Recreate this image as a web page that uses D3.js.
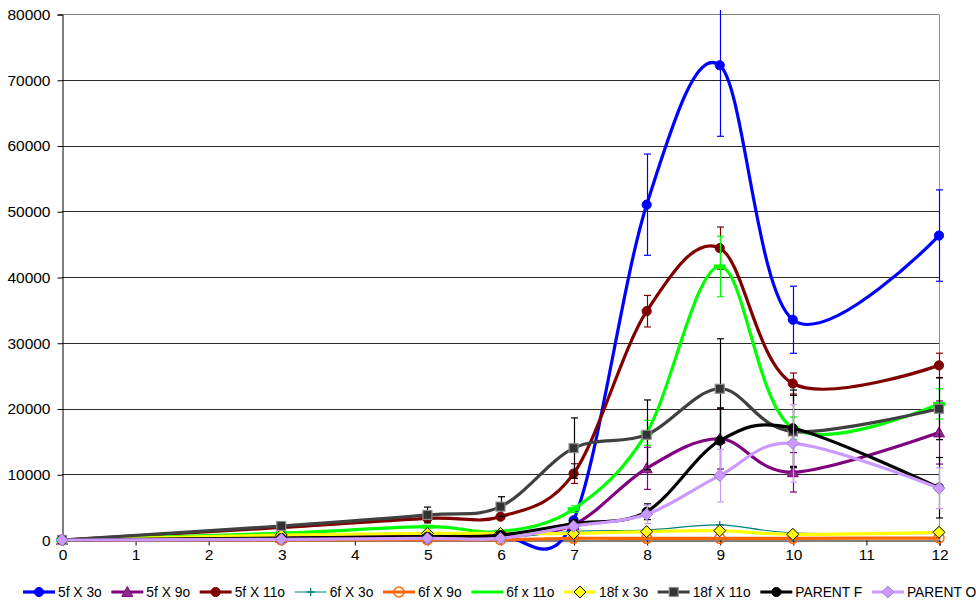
<!DOCTYPE html>
<html>
<head>
<meta charset="utf-8">
<script src="https://cdn.jsdelivr.net/npm/d3@7/dist/d3.min.js"></script>
<style>
  html, body { margin: 0; padding: 0; background: #fff; }
  svg { display: block; font-family: Arial, "Liberation Sans", sans-serif; }
</style>
</head>
<body>
<svg id="chart" width="976" height="605"></svg>
<script>
// Sampling times (x) shared by every series
const times = [0, 3, 5, 6, 7, 8, 9, 10, 12];

// Series names in legend order
const seriesNames = ["5f X 3o", "5f X 9o", "5f X 11o", "6f X 3o", "6f X 9o",
                     "6f x 11o", "18f x 3o", "18f X 11o", "PARENT F", "PARENT O"];

// Mean values per series
const v5fX3o   = [0, 100, 200, 500, 3000, 51000, 72200, 33500, 46300];
const v5fX9o   = [0, 300, 600, 700, 2300, 10900, 15400, 10300, 16350];
const v5fX11o  = [0, 1900, 3300, 3550, 10100, 34800, 44400, 23800, 26560];
const v6fX3o   = [0, 200, 300, 300, 1300, 1520, 2290, 1100, 1000];
const v6fX9o   = [0, 0, 50, 50, 250, 250, 250, 250, 300];
const v6fx11o  = [0, 1020, 2030, 1270, 4700, 16300, 41600, 17000, 20700];
const v18fx3o  = [0, 760, 1010, 1000, 1000, 1270, 1420, 860, 1170];
const v18fX11o = [0, 2130, 3810, 5080, 13970, 16000, 23000, 16500, 19960];
const vParentF = [0, 300, 500, 760, 2500, 4300, 15100, 17000, 7950];
const vParentO = [0, 100, 250, 250, 2100, 3900, 9800, 14700, 7870];

// Error bar half-widths (± values) per series
const e5fX3o   = [0, 0, 0, 0, 300, 7700, 10800, 5100, 6950];
const e5fX9o   = [0, 0, 0, 0, 500, 3200, 4600, 3000, 4800];
const e5fX11o  = [0, 0, 0, 300, 1500, 2400, 3200, 1600, 1850];
const e6fX3o   = [0, 0, 0, 0, 0, 0, 0, 0, 0];
const e6fX9o   = [0, 0, 0, 0, 0, 0, 0, 0, 0];
const e6fx11o  = [0, 0, 0, 0, 500, 1900, 4600, 1700, 2300];
const e18fx3o  = [0, 0, 0, 0, 0, 0, 0, 0, 0];
const e18fX11o = [0, 500, 1200, 1500, 4600, 5300, 7600, 5500, 4700];
const eParentF = [0, 0, 0, 0, 500, 1200, 5000, 5800, 4600];
const eParentO = [0, 0, 0, 0, 300, 1400, 4000, 5900, 3100];

// Axis ticks
const xTicks = [0, 1, 2, 3, 4, 5, 6, 7, 8, 9, 10, 11, 12];
const yTicks = [0, 10000, 20000, 30000, 40000, 50000, 60000, 70000, 80000];

const values = [v5fX3o, v5fX9o, v5fX11o, v6fX3o, v6fX9o, v6fx11o, v18fx3o, v18fX11o, vParentF, vParentO];
const errors = [e5fX3o, e5fX9o, e5fX11o, e6fX3o, e6fX9o, e6fx11o, e18fx3o, e18fX11o, eParentF, eParentO];

// Visual styling per series
const styles = [
  { line: "#0000FF", width: 3.2, marker: "circle",   fill: "#0000FF", stroke: "#0000FF" },
  { line: "#800080", width: 3.2, marker: "triangle", fill: "#8B2E8B", stroke: "#800080" },
  { line: "#800000", width: 3.2, marker: "circle",   fill: "#800000", stroke: "#800000" },
  { line: "#008080", width: 1.2, marker: "plus",     fill: "none",    stroke: "#008080" },
  { line: "#FF6600", width: 3.2, marker: "ring",     fill: "none",    stroke: "#FF6600" },
  { line: "#00FF00", width: 3.2, marker: "dash",     fill: "#00FF00", stroke: "#00FF00" },
  { line: "#FFFF00", width: 3.2, marker: "diamond",  fill: "#FFFF00", stroke: "#000000" },
  { line: "#404040", width: 3.2, marker: "square",   fill: "#333333", stroke: "#8C8C8C" },
  { line: "#000000", width: 3.2, marker: "circle",   fill: "#000000", stroke: "#000000" },
  { line: "#CC99FF", width: 3.2, marker: "diamond",  fill: "#CC99FF", stroke: "#9F7FCF" }
];

const series = seriesNames.map((name, i) => ({
  name,
  style: styles[i],
  points: times.map((t, j) => ({ x: t, y: values[i][j], e: errors[i][j] }))
}));

const svg = d3.select("#chart");
const plotLeft = 62, plotRight = 939, plotTop = 14, plotBottom = 540;

const x = d3.scaleLinear().domain([0, 12]).range([plotLeft, plotRight]);
const y = d3.scaleLinear().domain([0, 80000]).range([plotBottom, plotTop]);

// Clip region for error bars that run past the top of the plot
svg.append("defs").append("clipPath").attr("id", "eclip")
  .append("rect").attr("x", 0).attr("y", 10).attr("width", 976).attr("height", 560);

// Horizontal gridlines
svg.append("g")
  .selectAll("line")
  .data(yTicks.filter(d => d > 0))
  .join("line")
  .attr("x1", plotLeft).attr("x2", plotRight)
  .attr("y1", d => Math.round(y(d)) + 0.5).attr("y2", d => Math.round(y(d)) + 0.5)
  .attr("stroke", d => d === 80000 ? "#808080" : "#2a2a2a")
  .attr("stroke-width", 1);

// Right border of the plot area
svg.append("line")
  .attr("x1", plotRight + 0.5).attr("x2", plotRight + 0.5)
  .attr("y1", Math.round(y(80000)) + 0.5).attr("y2", plotBottom)
  .attr("stroke", "#909090").attr("stroke-width", 1);

// Y axis
const yAxis = d3.axisLeft(y).tickValues(yTicks).tickSize(5).tickPadding(6).tickFormat(d3.format("d"));
const yG = svg.append("g").attr("transform", `translate(${plotLeft + 0.5},0.5)`).call(yAxis);
yG.select(".domain").attr("stroke", "#000");
yG.selectAll(".tick line").attr("stroke", "#000");
yG.selectAll(".tick text").attr("font-size", 15.5).attr("fill", "#000")
  .attr("font-family", "Arial, 'Liberation Sans', sans-serif").attr("dx", "-1");

// X axis
const xAxis = d3.axisBottom(x).tickValues(xTicks).tickSize(5).tickPadding(3).tickFormat(d3.format("d"));
const xG = svg.append("g").attr("transform", `translate(0.5,${plotBottom + 0.5})`).call(xAxis);
xG.select(".domain").attr("stroke", "#000");
xG.selectAll(".tick line").attr("stroke", "#000");
xG.selectAll(".tick text").attr("font-size", 15.5).attr("fill", "#000")
  .attr("font-family", "Arial, 'Liberation Sans', sans-serif");

// Marker shapes
function drawMarker(g, kind, cx, cy, st, scale = 1) {
  if (kind === "circle") {
    g.append("circle").attr("cx", cx).attr("cy", cy).attr("r", 4.6 * scale)
      .attr("fill", st.fill).attr("stroke", st.stroke).attr("stroke-width", 1);
  } else if (kind === "ring") {
    g.append("circle").attr("cx", cx).attr("cy", cy).attr("r", 5 * scale)
      .attr("fill", "none").attr("stroke", st.stroke).attr("stroke-width", 1.5);
  } else if (kind === "triangle") {
    const s = 5.5 * scale;
    g.append("path").attr("d", `M${cx},${cy - s}L${cx + s},${cy + s * 0.8}L${cx - s},${cy + s * 0.8}Z`)
      .attr("fill", st.fill).attr("stroke", st.stroke).attr("stroke-width", 1);
  } else if (kind === "diamond") {
    const s = 6 * scale;
    g.append("path").attr("d", `M${cx},${cy - s}L${cx + s},${cy}L${cx},${cy + s}L${cx - s},${cy}Z`)
      .attr("fill", st.fill).attr("stroke", st.stroke).attr("stroke-width", 1);
  } else if (kind === "square") {
    const s = 4.5 * scale;
    g.append("rect").attr("x", cx - s).attr("y", cy - s).attr("width", 2 * s).attr("height", 2 * s)
      .attr("fill", st.fill).attr("stroke", st.stroke).attr("stroke-width", 1.2);
  } else if (kind === "plus") {
    const s = 4 * scale;
    g.append("path").attr("d", `M${cx - s},${cy}H${cx + s}M${cx},${cy - s}V${cy + s}`)
      .attr("fill", "none").attr("stroke", st.stroke).attr("stroke-width", 1.3);
  } else if (kind === "dash") {
    g.append("rect").attr("x", cx - 6 * scale).attr("y", cy - 2).attr("width", 12 * scale).attr("height", 4)
      .attr("fill", st.fill);
  }
}

const line = d3.line()
  .x(d => x(d.x)).y(d => y(d.y))
  .curve(d3.curveCardinal.tension(0));

const plot = svg.append("g");
series.forEach(s => {
  const g = plot.append("g");
  g.append("path")
    .attr("d", line(s.points))
    .attr("fill", "none")
    .attr("stroke", s.style.line)
    .attr("stroke-width", s.style.width)
    .attr("stroke-linejoin", "round")
    .attr("stroke-linecap", "round");

  // Error bars
  const eb = g.append("g").attr("clip-path", "url(#eclip)")
    .attr("stroke", s.style.line === "#404040" ? "#000000" : s.style.line)
    .attr("stroke-width", 1.2);
  s.points.filter(p => p.e > 0).forEach(p => {
    const cx = Math.round(x(p.x)) + 0.5;
    const y1 = y(p.y + p.e), y2 = y(p.y - p.e);
    eb.append("line").attr("x1", cx).attr("x2", cx).attr("y1", y1).attr("y2", y2);
    eb.append("line").attr("x1", cx - 3.5).attr("x2", cx + 3.5).attr("y1", y1).attr("y2", y1);
    eb.append("line").attr("x1", cx - 3.5).attr("x2", cx + 3.5).attr("y1", y2).attr("y2", y2);
  });

  s.points.forEach(p => drawMarker(g, s.style.marker, x(p.x), y(p.y), s.style));
});

// Legend along the bottom
const legend = svg.append("g").attr("font-size", 13.8);
let lx = 23;
const ly = 592;
series.forEach(s => {
  const g = legend.append("g");
  const lw = 32;
  g.append("line").attr("x1", lx).attr("x2", lx + lw).attr("y1", ly).attr("y2", ly)
    .attr("stroke", s.style.line).attr("stroke-width", s.style.width === 3.2 ? 3.2 : 1.2);
  drawMarker(g, s.style.marker, lx + lw / 2, ly, s.style, s.style.marker === "dash" ? 0 : 1);
  const t = g.append("text").attr("x", lx + lw + 3).attr("y", ly + 5).attr("fill", "#000").text(s.name);
  lx += lw + 3 + t.node().getComputedTextLength() + 9.6;
});
</script>
</body>
</html>
